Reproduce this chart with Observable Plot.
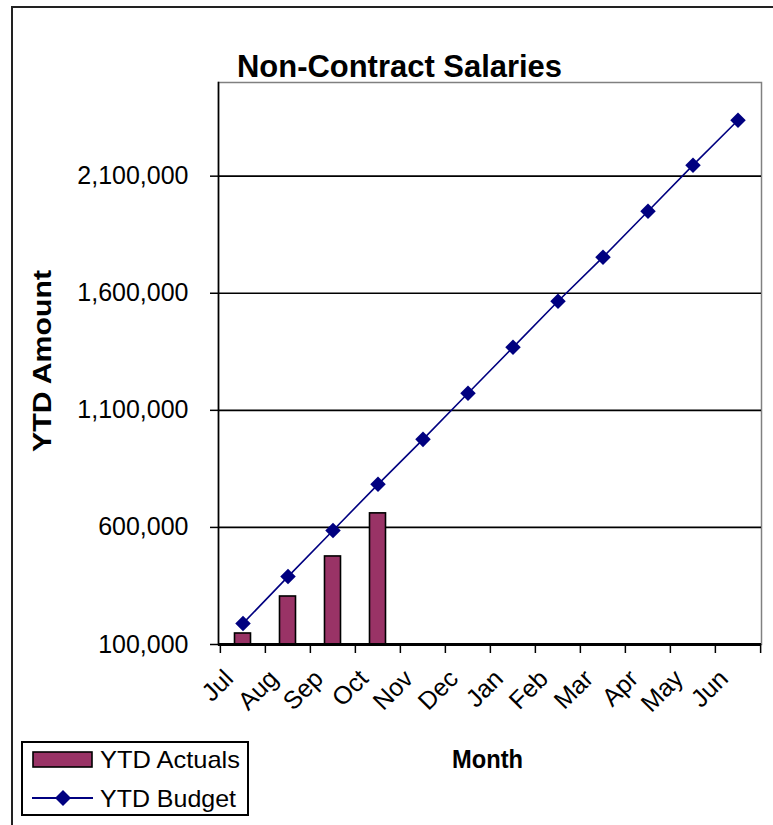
<!DOCTYPE html>
<html><head><meta charset="utf-8">
<script src="https://cdn.jsdelivr.net/npm/d3@7"></script>
<script src="https://cdn.jsdelivr.net/npm/@observablehq/plot@0.6"></script>
<style>
body{margin:0;background:#fff;}
#chart{position:relative;width:773px;height:825px;overflow:hidden;}
</style></head><body><div id="chart"></div>
<script>
const months = ["Jul","Aug","Sep","Oct","Nov","Dec","Jan","Feb","Mar","Apr","May","Jun"];
const actualMonths = ["Jul","Aug","Sep","Oct"];
const actuals = [147000, 305000, 476000, 660000];
const budget = [190000, 390000, 587000, 784000, 976000, 1173000, 1369000, 1566000, 1754000, 1950000, 2147000, 2339000];
const yTicks = [100000, 600000, 1100000, 1600000, 2100000];
const yDomain = [100000, 2500000];
const title = "Non-Contract Salaries";
const yTitle = "YTD Amount";
const xTitle = "Month";
const seriesNames = ["YTD Actuals", "YTD Budget"];
const actualColor = "#993366";
const budgetColor = "#000080";

const actualData = actualMonths.map((m, i) => ({month: m, value: actuals[i]}));
const budgetData = months.map((m, i) => ({month: m, value: budget[i]}));

const W = 773, H = 825;
const mL = 218, mR = 12, mT = 82, mB = 181;
const bw = (W - mL - mR) / months.length;
const font = "'Liberation Sans', Arial, sans-serif";

const plot = Plot.plot({
  width: W, height: H,
  marginLeft: mL, marginRight: mR, marginTop: mT, marginBottom: mB,
  style: {fontFamily: font, background: "white", color: "#000"},
  x: {type: "band", domain: months, padding: 0},
  y: {domain: yDomain},
  marks: [
    Plot.frame({stroke: "#808080", strokeWidth: 1.5}),
    Plot.gridY(yTicks.slice(1), {stroke: "#000", strokeOpacity: 1, strokeWidth: 1.6}),
    Plot.barY(actualData, {x: "month", y1: yDomain[0], y2: "value", fill: actualColor, stroke: "#000", strokeWidth: 1.6, insetLeft: 14.5, insetRight: 14.5}),
    Plot.frame({anchor: "left", stroke: "#000", strokeWidth: 1.6}),
    Plot.ruleY([yDomain[0]], {stroke: "#000", strokeWidth: 3}),
    Plot.axisY({ticks: yTicks, tickSize: 8, tickPadding: 22, tickFormat: d3.format(","), fontSize: 25, label: null, strokeWidth: 1.5}),
    Plot.axisX({ticks: months, tickSize: 9, tickFormat: () => "", dx: -bw / 2, label: null, strokeWidth: 1.5}),
    Plot.axisX({ticks: [months[months.length - 1]], tickSize: 9, tickFormat: () => "", dx: bw / 2, label: null, strokeWidth: 1.5}),
    Plot.axisX({ticks: months, tickSize: 0, tickRotate: -45, fontSize: 25, tickPadding: 30, dx: -14, label: null}),
    Plot.line(budgetData, {x: "month", y: "value", stroke: budgetColor, strokeWidth: 1.6}),
    Plot.dot(budgetData, {x: "month", y: "value", symbol: "diamond2", r: 7, fill: budgetColor})
  ]
});

document.getElementById("chart").appendChild(plot);
const svg = d3.select(plot);

// outer chart border
svg.insert("rect", ":first-child").attr("x", 12).attr("y", 7).attr("width", 900).attr("height", 900)
  .attr("fill", "none").attr("stroke", "#222").attr("stroke-width", 2);

// title
svg.append("text").text(title).attr("x", 399.5).attr("y", 77).attr("text-anchor", "middle")
  .attr("font-family", font).attr("font-weight", "bold").attr("font-size", 31)
  .attr("textLength", 325).attr("lengthAdjust", "spacingAndGlyphs");

// y title
svg.append("text").text(yTitle).attr("transform", "translate(51,361) rotate(-90)").attr("text-anchor", "middle")
  .attr("font-family", font).attr("font-weight", "bold").attr("font-size", 26)
  .attr("textLength", 182).attr("lengthAdjust", "spacingAndGlyphs");

// x title
svg.append("text").text(xTitle).attr("x", 487.5).attr("y", 768).attr("text-anchor", "middle")
  .attr("font-family", font).attr("font-weight", "bold").attr("font-size", 25)
  .attr("textLength", 71).attr("lengthAdjust", "spacingAndGlyphs");

// legend
const lg = svg.append("g");
lg.append("rect").attr("x", 22).attr("y", 742).attr("width", 226).attr("height", 73)
  .attr("fill", "white").attr("stroke", "#000").attr("stroke-width", 2);
lg.append("rect").attr("x", 33).attr("y", 752).attr("width", 59).attr("height", 15)
  .attr("fill", actualColor).attr("stroke", "#000").attr("stroke-width", 1.6);
lg.append("line").attr("x1", 32).attr("x2", 93).attr("y1", 798).attr("y2", 798)
  .attr("stroke", budgetColor).attr("stroke-width", 2);
lg.append("path").attr("d", "M63,790L71,798L63,806L55,798Z").attr("fill", budgetColor);
lg.selectAll("text.lab").data(seriesNames).join("text").attr("class", "lab")
  .text(d => d).attr("x", 100).attr("y", (d, i) => i ? 807 : 768)
  .attr("text-anchor", "start")
  .attr("font-family", font).attr("font-size", 24)
  .attr("textLength", (d, i) => i ? 136 : 140).attr("lengthAdjust", "spacingAndGlyphs");
</script></body></html>
